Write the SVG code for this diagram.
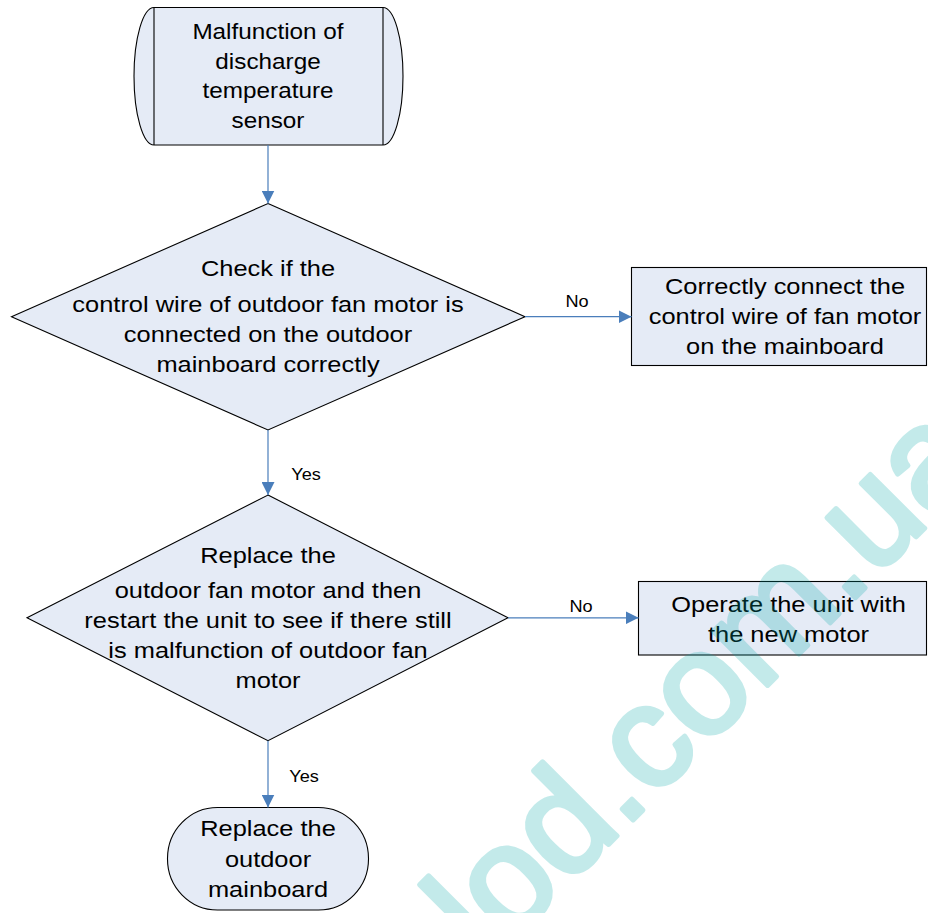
<svg xmlns="http://www.w3.org/2000/svg" width="928" height="913" viewBox="0 0 928 913">
<defs>
<style>
.shape{fill:#e5ebf6;stroke:#000;stroke-width:1.1}
.t{font-family:"Liberation Sans",Arial,sans-serif;font-size:22.5px;fill:#000;text-anchor:middle}
.ts{font-size:21.5px}
.lbl{font-family:"Liberation Sans",Arial,sans-serif;font-size:16.5px;fill:#000;text-anchor:middle}
.conn{fill:none;stroke:#4a7ebb;stroke-width:1.2}
.wm{font-family:"Liberation Sans",Arial,sans-serif;font-size:145px;fill:#00a8a8;stroke:#00a8a8;stroke-width:5;stroke-linejoin:round}
</style>
<marker id="arr" markerUnits="userSpaceOnUse" markerWidth="13" markerHeight="13" refX="13" refY="6.5" orient="auto">
<path d="M0,0 L13,6.5 L0,13 Z" fill="#4a7ebb"/>
</marker>
</defs>
<rect width="928" height="913" fill="#fff"/>

<g id="start">
<path class="shape" d="M154,7.5 H383 A20,68.75 0 0 1 383,145 H154 A20,68.75 0 0 1 154,7.5 Z"/>
<path d="M154,7.5 V145 M383,7.5 V145" stroke="#000" stroke-width="1.1" fill="none"/>
<g transform="translate(268,0) scale(1.13,1)">
<text class="t ts" x="0" y="39.5">Malfunction of</text>
<text class="t ts" x="0" y="69">discharge</text>
<text class="t ts" x="0" y="98.5">temperature</text>
<text class="t ts" x="0" y="128">sensor</text>
</g>
</g>

<g id="check">
<polygon class="shape" points="268,203.5 525,316.7 268,430 11.5,316.7"/>
<g transform="translate(268,0) scale(1.13,1)">
<text class="t" x="0" y="276">Check if the</text>
<text class="t" x="0" y="311.7">control wire of outdoor fan motor is</text>
<text class="t" x="0" y="341.7">connected on the outdoor</text>
<text class="t" x="0" y="371.7">mainboard correctly</text>
</g>
</g>

<g id="connect">
<rect class="shape" x="631.5" y="267.5" width="295" height="98"/>
<g transform="translate(785,0) scale(1.13,1)">
<text class="t" x="0" y="294.5">Correctly connect the</text>
<text class="t" x="0" y="324.5">control wire of fan motor</text>
<text class="t" x="0" y="354">on the mainboard</text>
</g>
</g>

<g id="replace-motor">
<polygon class="shape" points="268,495 508,617.8 268,740.7 27,617.8"/>
<g transform="translate(268,0) scale(1.13,1)">
<text class="t" x="0" y="562.7">Replace the</text>
<text class="t" x="0" y="598.3">outdoor fan motor and then</text>
<text class="t" x="0" y="628.3">restart the unit to see if there still</text>
<text class="t" x="0" y="658.3">is malfunction of outdoor fan</text>
<text class="t" x="0" y="688.3">motor</text>
</g>
</g>

<g id="operate">
<rect class="shape" x="638.5" y="581.5" width="288" height="73.5"/>
<g transform="translate(788.5,0) scale(1.13,1)">
<text class="t" x="0" y="611.7">Operate the unit with</text>
<text class="t" x="0" y="641.7">the new motor</text>
</g>
</g>

<g id="replace-board">
<rect class="shape" x="167.5" y="807.5" width="201" height="102.5" rx="50" ry="51"/>
<g transform="translate(268,0) scale(1.13,1)">
<text class="t" x="0" y="836">Replace the</text>
<text class="t" x="0" y="866.7">outdoor</text>
<text class="t" x="0" y="896.7">mainboard</text>
</g>
</g>

<g id="connectors">
<path class="conn" d="M268,145 V203.5" marker-end="url(#arr)"/>
<path class="conn" d="M525,316.7 H631.5" marker-end="url(#arr)"/>
<path class="conn" d="M268,430 V495" marker-end="url(#arr)"/>
<path class="conn" d="M508,617.8 H638.5" marker-end="url(#arr)"/>
<path class="conn" d="M268,740.7 V807.5" marker-end="url(#arr)"/>
<g transform="translate(577,0) scale(1.1,1)"><text class="lbl" x="0" y="306.7">No</text></g>
<g transform="translate(306,0) scale(1.1,1)"><text class="lbl" x="0" y="480">Yes</text></g>
<g transform="translate(581,0) scale(1.1,1)"><text class="lbl" x="0" y="611.7">No</text></g>
<g transform="translate(304,0) scale(1.1,1)"><text class="lbl" x="0" y="782.3">Yes</text></g>
</g>

<g id="watermark" opacity="0.23">
<text class="wm" transform="translate(487,966) rotate(-45)" x="0" y="0">lod.com.ua</text>
</g>
</svg>
